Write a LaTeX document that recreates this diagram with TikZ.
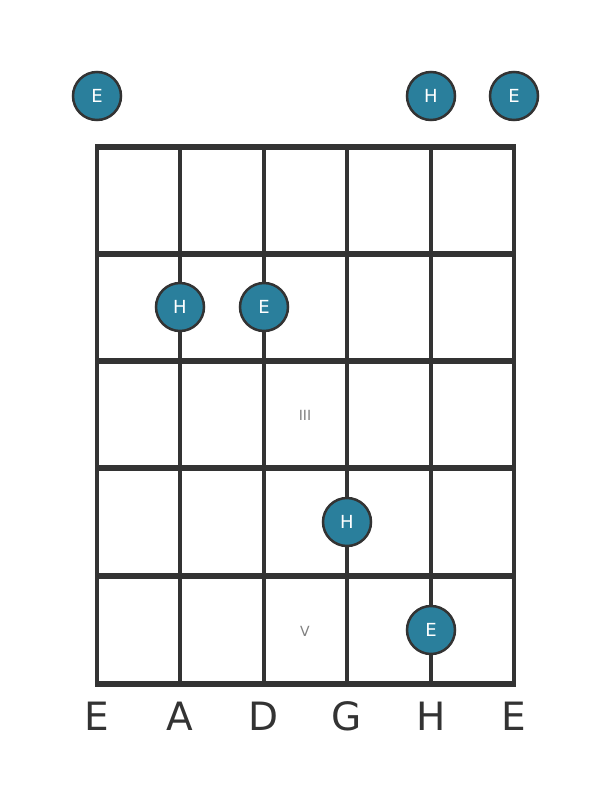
\documentclass[tikz,border=0pt]{standalone}
\usepackage{fontspec}
\setmainfont{DejaVu Sans}
\usepackage{xcolor}
\usepackage{tikz}
\usetikzlibrary{positioning}

\definecolor{dotteal}{HTML}{2A7F9C}
\definecolor{gridgray}{HTML}{333333}

\begin{document}
\begin{tikzpicture}[
    x=1pt, y=-1pt,
    fret/.style={draw=gridgray, line width=5.5pt},
    string/.style={draw=gridgray, line width=3.3pt},
    note/.style={circle, draw=gridgray, line width=2.5pt, fill=dotteal, minimum size=48pt, inner sep=0pt, text=white, font=\fontsize{18}{18}\selectfont},
    strlabel/.style={font=\fontsize{39}{39}\selectfont, text=gridgray},
    fretnum/.style={font=\fontsize{14}{14}\selectfont, text=gray}
]
\useasboundingbox (0,0) rectangle (611,801);

% Strings
\foreach \sx in {97,180,264,347,431,514}
    \draw[string] (\sx,147) -- (\sx,684);

% Frets
\foreach \fy in {147,254,361,468,576,684}
    \draw[fret] (95.4,\fy) -- (515.6,\fy);

% Fret numbers
\node[fretnum] (f3) at (305,415) {III};
\node[fretnum] (f5) at (305,631) {V};

% Open strings
\node[note] (o1) at (97,96) {E};
\node[note] (o5) at (431,96) {H};
\node[note] (o6) at (514,96) {E};

% Fretted notes
\node[note] (n22) at (180,307) {H};
\node[note] (n23) at (264,307) {E};
\node[note] (n44) at (347,522) {H};
\node[note] (n55) at (431,630) {E};

% String names
\node[strlabel] (s1) at (97,716) {E};
\node[strlabel] (s2) at (180,716) {A};
\node[strlabel] (s3) at (264,716) {D};
\node[strlabel] (s4) at (347,716) {G};
\node[strlabel] (s5) at (431,716) {H};
\node[strlabel] (s6) at (514,716) {E};

\end{tikzpicture}
\end{document}
